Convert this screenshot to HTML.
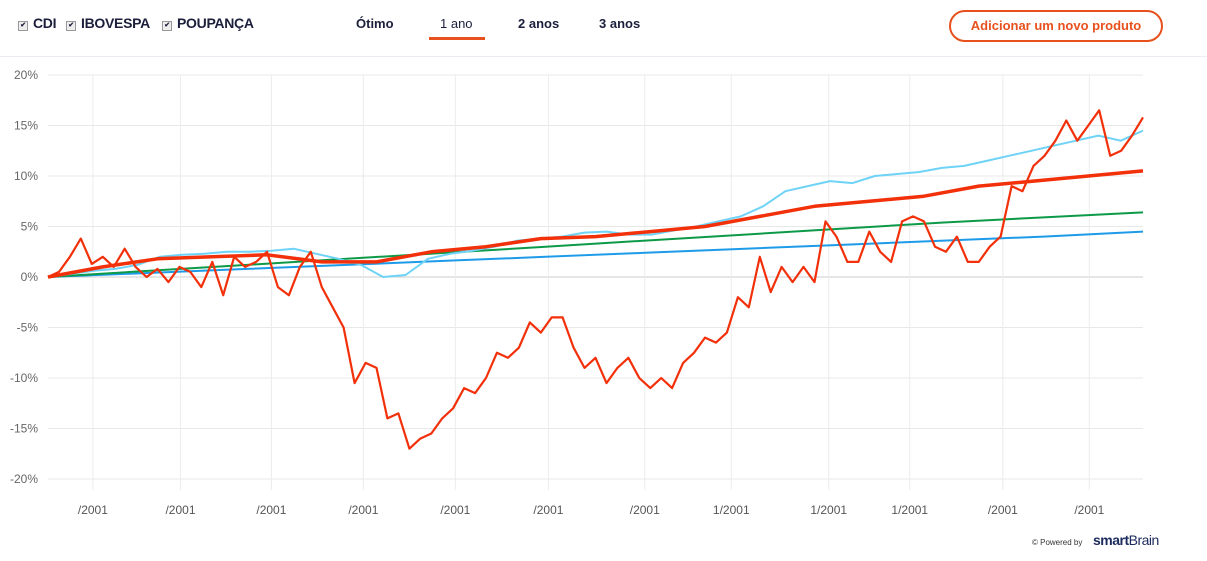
<!DOCTYPE html>
<html><head><meta charset="utf-8">
<style>
body{margin:0;width:1207px;height:561px;background:#fff;font-family:"Liberation Sans",sans-serif;overflow:hidden;position:relative}
.hdr{position:absolute;left:0;top:0;width:1207px;height:56px;border-bottom:1px solid #ececf2}
.cb{position:absolute;top:15px;font-weight:bold;font-size:14px;color:#1b1f3b;letter-spacing:-0.3px}
.cb i{display:inline-block;width:8px;height:8px;border:1px solid #999;background:#eee;margin-right:5px;font-size:7px;line-height:8px;text-align:center;font-style:normal;vertical-align:1px}
.tab{position:absolute;top:16px;font-size:13px;font-weight:bold;color:#1b1f3b}
.btn{position:absolute;left:949px;top:10px;width:210px;height:28px;border:2px solid #e8501d;border-radius:16px;color:#e8501d;font-weight:bold;font-size:13px;text-align:center;line-height:28px}
</style></head><body>
<div class="hdr">
<span class="cb" style="left:18px"><i>✔</i>CDI</span>
<span class="cb" style="left:66px"><i>✔</i>IBOVESPA</span>
<span class="cb" style="left:162px"><i>✔</i>POUPANÇA</span>
<span class="tab" style="left:356px">Ótimo</span>
<span class="tab" style="left:440px;font-weight:normal">1 ano</span>
<div style="position:absolute;left:429px;top:37px;width:56px;height:3px;background:#e8501d"></div>
<span class="tab" style="left:518px">2 anos</span>
<span class="tab" style="left:599px">3 anos</span>
<div class="btn">Adicionar um novo produto</div>
</div>
<svg id="chart" width="1207" height="561" style="position:absolute;left:0;top:0"></svg>
<div style="position:absolute;left:1032px;top:538px;font-size:8px;color:#333">© Powered by</div>
<div style="position:absolute;left:1093px;top:532px;font-size:14px;color:#1b2a5c;letter-spacing:-0.5px"><b>smart</b>Brain</div>
<script>
const ibov=[0,0.5,2,3.8,1.3,2,1,2.8,1,0,0.8,-0.5,1,0.5,-1,1.5,-1.8,2,1,1.5,2.5,-1,-1.8,1,2.5,-1,-3,-5,-10.5,-8.5,-9,-14,-13.5,-17,-16,-15.5,-14,-13,-11,-11.5,-10,-7.5,-8,-7,-4.5,-5.5,-4,-4,-7,-9,-8,-10.5,-9,-8,-10,-11,-10,-11,-8.5,-7.5,-6,-6.5,-5.5,-2,-3,2,-1.5,1,-0.5,1,-0.5,5.5,4,1.5,1.5,4.5,2.5,1.5,5.5,6,5.5,3,2.5,4,1.5,1.5,3,4,9,8.5,11,12,13.5,15.5,13.5,15,16.5,12,12.5,14,15.8];
const lblue=[0,0.3,0.6,0.8,1.2,2,2.2,2.3,2.5,2.5,2.6,2.8,2.3,1.8,1.2,0,0.2,1.8,2.3,2.6,3,3.6,3.8,4,4.4,4.5,4.2,4.2,4.6,5,5.5,6,7,8.5,9,9.5,9.3,10,10.2,10.4,10.8,11,11.5,12,12.5,13,13.5,14,13.5,14.5];
const fund=[0,1,1.8,2,2.2,1.5,1.5,2.5,3,3.8,4,4.5,5,6,7,7.5,8,9,9.5,10,10.5];
const poup=[0,0.6,1.2,1.8,2.4,3,3.6,4.2,4.8,5.4,5.9,6.4];
const cdi=[0,0.4,0.8,1.2,1.6,2,2.4,2.8,3.2,3.6,4,4.5];
const yTicks=[20,15,10,5,0,-5,-10,-15,-20];
const xTickIdx=[4.1,12.1,20.4,28.8,37.2,45.7,54.5,62.4,71.3,78.7,87.2,95.1];
const xTickLbl=["/2001","/2001","/2001","/2001","/2001","/2001","/2001","1/2001","1/2001","1/2001","/2001","/2001"];
const X0=48,X1=1143,Y0=277,PX=10.1,N=ibov.length;
const xIdx=i=>X0+i*(X1-X0)/(N-1);
const xFrac=(i,n)=>X0+i*(X1-X0)/(n-1);
const y=v=>Y0-v*PX;
const svg=document.getElementById('chart');
const NS='http://www.w3.org/2000/svg';
function mk(t,a){const e=document.createElementNS(NS,t);for(const k in a)e.setAttribute(k,a[k]);svg.appendChild(e);return e;}
yTicks.forEach(v=>{
 const l=mk('line',{x1:X0,x2:X1,y1:y(v),y2:y(v),stroke:v===0?'#ccc':'#e8e8e8'});
 
 
 const t=mk('text',{x:38,y:y(v)+4,'text-anchor':'end','font-size':12,fill:'#666'});t.textContent=v+'%';
 
 
});
xTickIdx.forEach((ix,k)=>{
 const x=xIdx(ix);
 const l=mk('line',{x1:x,x2:x,y1:75,y2:490,stroke:'#ececec'});
 
 
 const t=mk('text',{x:x,y:514,'text-anchor':'middle','font-size':12,fill:'#555'});t.textContent=xTickLbl[k];
 
 
});
function series(arr,color,w,name){
 const pts=arr.map((v,i)=>xFrac(i,arr.length).toFixed(1)+','+y(v).toFixed(1)).join(' ');
 const p=mk('polyline',{points:pts,fill:'none',stroke:color,'stroke-width':w,'stroke-linejoin':'round'});
 
 
}
series(cdi,'#1e9be8',2,'cdi-line');
series(poup,'#0d9a48',2,'poupanca-line');
series(lblue,'#6fd3f7',2,'benchmark-line');
series(fund,'#f2300a',3.5,'fund-line');
series(ibov,'#f2300a',2.2,'ibovespa-line');
</script>
</body></html>
